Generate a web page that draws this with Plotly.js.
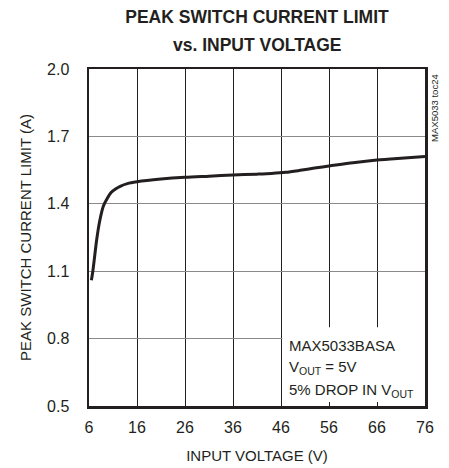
<!DOCTYPE html>
<html><head><meta charset="utf-8">
<script src="https://cdn.plot.ly/plotly-3.0.1.min.js"></script>
<style>html,body{margin:0;padding:0;background:#fff}#chart{width:449px;height:468px}</style>
</head><body><div id="chart"></div>
<script>
const inputVoltage = [6.5, 6.8, 7.2, 7.6, 8.2, 9.0, 9.7, 10.6, 11.6, 12.5, 14, 16, 21, 26, 31, 36, 41, 44, 47, 50, 53, 56, 61, 66, 71, 76];
const currentLimit = [1.06, 1.10, 1.17, 1.24, 1.32, 1.39, 1.42, 1.45, 1.467, 1.478, 1.49, 1.498, 1.51, 1.518, 1.523, 1.528, 1.532, 1.535, 1.54, 1.549, 1.559, 1.568, 1.583, 1.595, 1.603, 1.61];
const xTicks = [6, 16, 26, 36, 46, 56, 66, 76];
const yTicks = [0.5, 0.8, 1.1, 1.4, 1.7, 2.0];
const yTickText = ['0.5', '0.8', '1.1', '1.4', '1.7', '2.0'];
const titleLine1 = 'PEAK SWITCH CURRENT LIMIT';
const titleLine2 = 'vs. INPUT VOLTAGE';
const xTitle = 'INPUT VOLTAGE (V)';
const yTitle = 'PEAK SWITCH CURRENT LIMIT (A)';
const noteLines = ['MAX5033BASA', 'V<sub>OUT</sub> = 5V', '5% DROP IN V<sub>OUT</sub>'];
const tocLabel = 'MAX5033 toc24';

const FONT = 'Liberation Sans, Arial, Helvetica, sans-serif';
const INK = '#231f20';

const trace = {
  x: inputVoltage, y: currentLimit, type: 'scatter', mode: 'lines',
  line: {color: INK, width: 3, shape: 'spline', smoothing: 0.8},
  hoverinfo: 'skip'
};

const noteY = [0.7715, 0.672, 0.569];
const noteAnnotations = noteLines.map((t, i) => ({
  xref: 'x', yref: 'y', x: 47.2, y: noteY[i], xanchor: 'left', yanchor: 'middle', align: 'left',
  showarrow: false, text: t, font: {family: FONT, size: 15, color: INK}
}));

const layout = {
  width: 449, height: 468,
  margin: {l: 89, r: 24, t: 69, b: 62},
  paper_bgcolor: '#fff', plot_bgcolor: '#fff',
  showlegend: false,
  title: {text: '<b>' + titleLine1 + '</b>', font: {family: FONT, size: 17.5, color: INK},
          x: 0.5, xref: 'paper', xanchor: 'center', yref: 'container', y: 1 - 17 / 468, yanchor: 'middle'},
  font: {family: FONT, color: INK, size: 15},
  xaxis: {
    range: [6, 76], tickvals: xTicks, ticktext: xTicks.map(String),
    showgrid: true, gridcolor: INK, gridwidth: 1,
    showline: true, linecolor: INK, linewidth: 2.5, mirror: true,
    ticks: 'inside', ticklen: 4, tickcolor: INK,
    zeroline: false, tickfont: {family: FONT, size: 16, color: INK}, ticklabelstandoff: 5,
    title: {text: xTitle, font: {family: FONT, size: 15, color: INK}, standoff: 16}
  },
  yaxis: {
    range: [0.5, 2.0], tickvals: yTicks, ticktext: yTickText,
    showgrid: true, gridcolor: '#8a8a8a', gridwidth: 1.3,
    showline: true, linecolor: INK, linewidth: 2.5, mirror: true,
    ticks: '', zeroline: false, tickfont: {family: FONT, size: 16, color: INK}, ticklabelstandoff: 14,
    title: {text: yTitle, font: {family: FONT, size: 15, color: INK}, standoff: 12}
  },
  shapes: [{
    type: 'rect', xref: 'x', yref: 'y', x0: 46.3, x1: 76, y0: 0.5, y1: 0.85,
    fillcolor: '#fff', line: {width: 0}, layer: 'between'
  }],
  annotations: [
    {xref: 'paper', yref: 'paper', x: 0.5, y: 1 + 24 / 337, xanchor: 'center', yanchor: 'middle', showarrow: false,
     text: '<b>' + titleLine2 + '</b>', font: {family: FONT, size: 17.5, color: INK}},
    ...noteAnnotations,
    {xref: 'paper', yref: 'paper', x: 1.006, y: 0.99, xanchor: 'left', yanchor: 'top', showarrow: false,
     text: tocLabel, textangle: -90, font: {family: FONT, size: 9.5, color: INK}}
  ]
};

Plotly.newPlot('chart', [trace], layout, {displayModeBar: false, staticPlot: true});
</script>
</body></html>
